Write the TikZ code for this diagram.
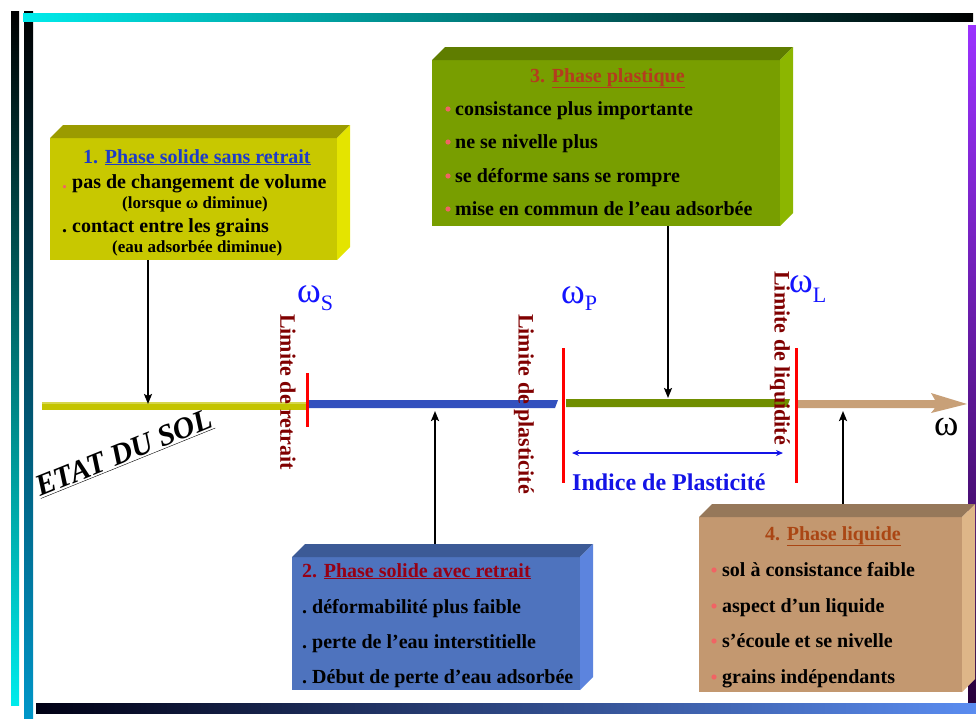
\documentclass[tikz,border=0pt]{standalone}
\usepackage{fontspec}
\setmainfont{Liberation Serif}
\usetikzlibrary{arrows.meta}
\definecolor{yfront}{RGB}{200,200,0}
\definecolor{ytop}{RGB}{155,155,0}
\definecolor{yside}{RGB}{228,228,0}
\definecolor{gfront}{RGB}{120,158,0}
\definecolor{gtop}{RGB}{95,125,0}
\definecolor{gside}{RGB}{140,182,0}
\definecolor{bfront}{RGB}{78,115,190}
\definecolor{btop}{RGB}{60,90,150}
\definecolor{bside}{RGB}{92,132,222}
\definecolor{tfront}{RGB}{195,152,112}
\definecolor{ttop}{RGB}{150,120,90}
\definecolor{tside}{RGB}{222,182,136}
\definecolor{tone}{RGB}{30,60,200}
\definecolor{ttwo}{RGB}{150,0,20}
\definecolor{tthree}{RGB}{180,60,30}
\definecolor{tfour}{RGB}{170,70,20}
\definecolor{limc}{RGB}{128,0,0}
\definecolor{omc}{RGB}{20,20,255}
\definecolor{bulc}{RGB}{240,100,100}
\definecolor{axy}{RGB}{196,196,0}
\definecolor{axb}{RGB}{50,80,190}
\definecolor{axg}{RGB}{112,142,0}
\definecolor{axt}{RGB}{200,160,120}
\definecolor{ipc}{RGB}{20,20,230}
\newcommand{\fz}[1]{\fontsize{#1}{#1}\selectfont}
\begin{document}
\begin{tikzpicture}[x=1pt,y=-1pt,
  face/.style={inner sep=0pt, outer sep=0pt, anchor=north west},
  txt/.style={inner sep=0pt, anchor=base west, font=\fz{20}\bfseries},
  small/.style={inner sep=0pt, anchor=base west, font=\fz{17}\bfseries},
  arr/.style={line width=2pt, -{Stealth[length=10pt,width=8pt,inset=2pt]}},
  redline/.style={red, line width=3pt},
  lim/.style={inner sep=0pt, rotate=-90, font=\fz{22}\bfseries, text=limc},
  om/.style={inner sep=0pt, anchor=base west, text=omc},
  bulstyle/.style={fill=bulc}]
\useasboundingbox (0,0) rectangle (976,718);
% borders
\shade[top color=black, bottom color={rgb,255:red,0;green,235;blue,235}] (11,11) rectangle (19,705);
\shade[top color=black, bottom color={rgb,255:red,0;green,150;blue,200}] (24,11) rectangle (33,718);
\shade[left color={rgb,255:red,0;green,235;blue,235}, right color=black] (23,13) rectangle (973,21);
\shade[top color={rgb,255:red,155;green,50;blue,255}, bottom color={rgb,255:red,40;green,0;blue,60}] (968,25) rectangle (976,703);
\shade[left color={rgb,255:red,0;green,0;blue,20}, right color={rgb,255:red,90;green,140;blue,240}] (36,703) rectangle (976,713);

% box 1
\node[face, fill=yfront, minimum width=287pt, minimum height=122pt] (b1) at (50,138) {};
\fill[ytop] (b1.north west) -- ++(13,-13) -- ([shift={(13pt,13pt)}]b1.north east) -- (b1.north east) -- cycle;
\fill[yside] (b1.north east) -- ([shift={(13pt,13pt)}]b1.north east) -- ([shift={(13pt,13pt)}]b1.south east) -- (b1.south east) -- cycle;
\node[txt, text=tone] (b1t) at (83,163) {1. \underline{Phase solide sans retrait}};
\node[txt] (b1a) at (62,188) {{\color{bulc}.}\ pas de changement de volume};
\node[small] (b1b) at (122,208) {(lorsque ω diminue)};
\node[txt] (b1c) at (62,232) {.\ contact entre les grains};
\node[small] (b1d) at (112,252) {(eau adsorbée diminue)};

% box 3
\node[face, fill=gfront, minimum width=348pt, minimum height=166pt] (b3) at (432,60) {};
\fill[gtop] (b3.north west) -- ++(13,-13) -- ([shift={(13pt,13pt)}]b3.north east) -- (b3.north east) -- cycle;
\fill[gside] (b3.north east) -- ([shift={(13pt,13pt)}]b3.north east) -- ([shift={(13pt,13pt)}]b3.south east) -- (b3.south east) -- cycle;
\node[txt, text=tthree] (b3t) at (530,82) {3. \underline{Phase plastique}};
\node[txt] (b3a) at (455,115) {consistance plus importante};
\node[txt] (b3b) at (455,148) {ne se nivelle plus};
\node[txt] (b3c) at (455,182) {se déforme sans se rompre};
\node[txt] (b3d) at (455,215) {mise en commun de l’eau adsorbée};
\foreach \yy in {115,148,182,215} \fill[bulstyle] (448,\yy-6) circle (2.6);

% box 2
\node[face, fill=bfront, minimum width=288pt, minimum height=133pt] (b2) at (292,557) {};
\fill[btop] (b2.north west) -- ++(13,-13) -- ([shift={(13pt,13pt)}]b2.north east) -- (b2.north east) -- cycle;
\fill[bside] (b2.north east) -- ([shift={(13pt,13pt)}]b2.north east) -- ([shift={(13pt,13pt)}]b2.south east) -- (b2.south east) -- cycle;
\node[txt, text=ttwo] (b2t) at (302,577) {2. \underline{Phase solide avec retrait}};
\node[txt] (b2a) at (302,613) {.\ déformabilité plus faible};
\node[txt] (b2b) at (302,648) {.\ perte de l’eau interstitielle};
\node[txt] (b2c) at (302,683) {.\ Début de perte d’eau adsorbée};

% box 4
\node[face, fill=tfront, minimum width=263pt, minimum height=175pt] (b4) at (699,517) {};
\fill[ttop] (b4.north west) -- ++(13,-13) -- ([shift={(13pt,13pt)}]b4.north east) -- (b4.north east) -- cycle;
\fill[tside] (b4.north east) -- ([shift={(13pt,13pt)}]b4.north east) -- ([shift={(13pt,13pt)}]b4.south east) -- (b4.south east) -- cycle;
\node[txt, text=tfour] (b4t) at (765,540) {4. \underline{Phase liquide}};
\node[txt] (b4a) at (722,576) {sol à consistance faible};
\node[txt] (b4b) at (722,612) {aspect d’un liquide};
\node[txt] (b4c) at (722,647) {s’écoule et se nivelle};
\node[txt] (b4d) at (722,683) {grains indépendants};
\foreach \yy in {576,612,647,683} \fill[bulstyle] (714,\yy-6) circle (2.6);

% axis
\fill[axy] (42,402) rectangle (307,410);
\fill[axy!70!white] (42,402) rectangle (307,404);
\fill[axb] (307,400) -- (558,400) -- (555,408) -- (307,408) -- cycle;
\fill[axg] (566,399) -- (790,399) -- (787,407) -- (566,407) -- cycle;
\fill[axt] (797,400) -- (935,400) -- (931,393) -- (967,404) -- (931,413) -- (935,408) -- (797,408) -- cycle;

% red limits
\draw[redline] (307,373) -- (307,427);
\draw[redline] (563,348) -- (563,483);
\draw[redline] (796,348) -- (796,483);

% vertical labels
\node[lim] (l1) at (288,392) {Limite de retrait};
\node[lim] (l2) at (524,404) {Limite de plasticité};
\node[lim] (l3) at (780,358) {Limite de liquidité};

% omega labels
\node[om] (ws) at (297,302) {\fz{36}ω\raisebox{-8pt}{\fz{22}S}};
\node[om] (wp) at (561,303) {\fz{36}ω\raisebox{-7pt}{\fz{22}P}};
\node[om] (wl) at (789,292) {\fz{36}ω\raisebox{-10pt}{\fz{22}L}};
\node[inner sep=0pt, anchor=base west] (wend) at (934,435) {\fz{37}ω};

% plasticity index
\coordinate (ipa) at (572,453);
\coordinate (ipb) at (783,453);
\draw[ipc, line width=1.5pt, {Stealth[length=7pt,width=6pt]}-{Stealth[length=7pt,width=6pt]}] (ipa) -- (ipb);
\node[inner sep=0pt, anchor=base west, text=ipc, font=\fz{24}\bfseries] (ip) at (572,490) {Indice de Plasticité};

% ETAT DU SOL
\node[inner sep=0pt, anchor=base west, rotate=22, font=\fz{30}\bfseries\itshape] (etat) at (40,497) {\underline{ETAT DU SOL}};

% arrows
\coordinate (t1) at (148,404);
\coordinate (t2) at (435,411);
\coordinate (t3) at (668,398);
\coordinate (t4) at (843,411);
\coordinate (s2) at (435,544);
\coordinate (s4) at (843,504);
\draw[arr] (t1 |- b1.south) -- (t1);
\draw[arr] (s2) -- (t2);
\draw[arr] (t3 |- b3.south) -- (t3);
\draw[arr] (s4) -- (t4);
\end{tikzpicture}
\end{document}
